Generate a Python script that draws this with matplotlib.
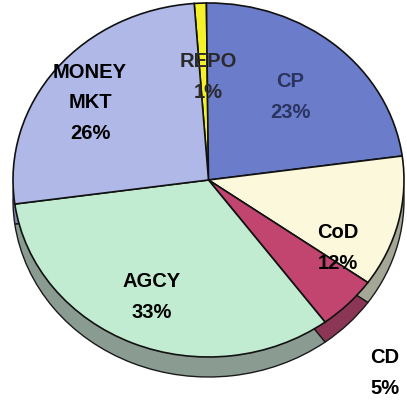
import matplotlib
matplotlib.use("Agg")
import matplotlib.pyplot as plt

# portfolio mix
labels = ["REPO", "CP", "CoD", "CD", "AGCY", "MONEY\nMKT"]
shares = [1, 23, 12, 5, 33, 26]

top_colors = ["#f4f02a", "#6b7ccb", "#fcf8dc", "#c2456f", "#c2ecd2", "#b0b8e8"]
rim_colors = ["#b0ac20", "#4c5a98", "#a4a696", "#8c3656", "#8a9c92", "#8088b0"]
text_colors = ["#2a2a2a", "#2b3360", "black", "black", "black", "black"]

# label centres in pixels (x from left, y from top)
label_px = [(208, 77), (290, 97), (338, 248), (385, 373), (152, 297), (90, 103)]

W, H = 407, 401
cx, cy = 208.5, 180.0      # ellipse centre, px
rx, ry = 195.5, 177.0      # ellipse radii, px
rim = 20.0 / ry            # thickness of the side

plt.rcParams['font.family'] = ['Liberation Sans', 'DejaVu Sans']

fig = plt.figure(figsize=(W / 100, H / 100), dpi=100)
ax = fig.add_axes([0, 0, 1, 1])

# side of the disc: same pie, darker, pushed down
ax.pie(shares, colors=rim_colors, startangle=94.2, counterclock=False,
       center=(0, -rim), radius=1.0,
       wedgeprops=dict(edgecolor="#1a1a1a", linewidth=1.0))
# top face
ax.pie(shares, colors=top_colors, startangle=94.2, counterclock=False,
       center=(0, 0), radius=1.0,
       wedgeprops=dict(edgecolor="#111111", linewidth=1.2))

ax.set_aspect('auto')
ax.set_xlim(-cx / rx, (W - cx) / rx)
ax.set_ylim(-(H - cy) / ry, cy / ry)
ax.axis('off')

for lab, pct, (px, py), col in zip(labels, shares, label_px, text_colors):
    ax.text((px - cx) / rx, (cy - py) / ry, "%s\n%d%%" % (lab, pct),
            ha='center', va='center', fontsize=14.5, fontweight='bold',
            color=col, linespacing=1.75)

fig.savefig("out.png", dpi=100, facecolor="white")
